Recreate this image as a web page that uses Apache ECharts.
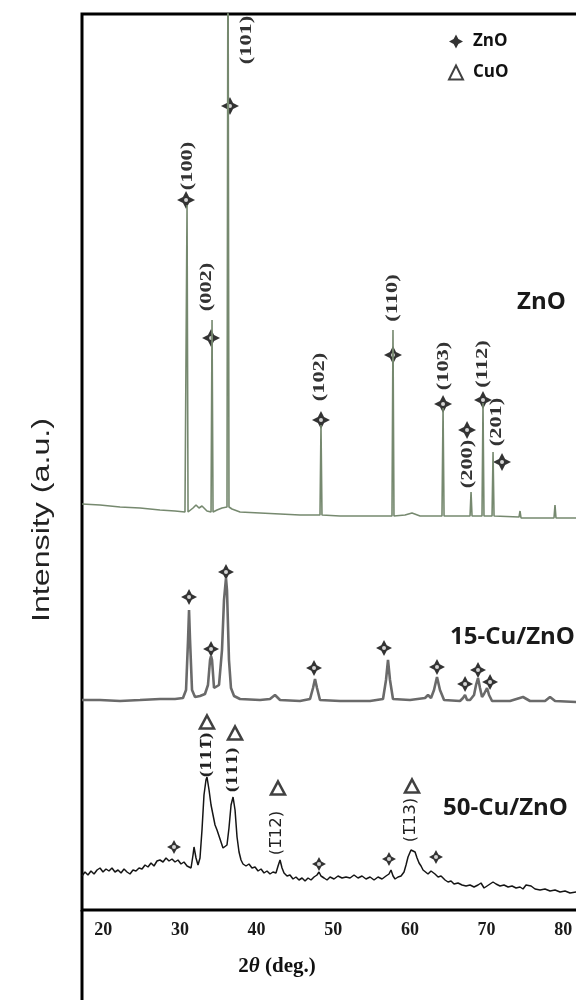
<!DOCTYPE html>
<html>
<head>
<meta charset="utf-8">
<title>XRD - ZnO / 15-Cu/ZnO / 50-Cu/ZnO</title>
<script src="https://cdn.jsdelivr.net/npm/echarts@6/dist/echarts.min.js"></script>
<style>
  html, body { margin: 0; padding: 0; background: #fff; }
  #main { width: 576px; height: 1000px; }
</style>
</head>
<body>
<div id="main"></div>
<script>
// 2theta tick labels
var xTicks = [20, 30, 40, 50, 60, 70, 80];

// patterns: [2theta (deg), intensity (a.u., stacked)]
var zno = [
  [17.23, 406], [19.58, 405], [22.19, 403], [24.80, 402], [27.40, 400], [29.36, 399],
  [30.66, 398], [30.80, 398], [30.93, 705], [31.06, 398], [31.32, 399], [31.71, 402],
  [32.10, 405], [32.49, 402], [32.88, 404], [33.53, 399], [34.06, 398], [34.19, 590],
  [34.32, 398], [34.84, 400], [35.49, 402], [36.14, 403], [36.27, 1010], [36.40, 403],
  [36.79, 401], [37.84, 398], [40.45, 397], [43.06, 396], [45.66, 395], [48.27, 395],
  [48.40, 485], [48.53, 395], [50.88, 394], [54.79, 394], [57.66, 394], [57.79, 580],
  [57.92, 394], [59.36, 395], [60.27, 397], [61.32, 394], [64.18, 394], [64.32, 502],
  [64.45, 394], [67.84, 394], [67.97, 418], [68.10, 394], [69.40, 394], [69.53, 507],
  [69.66, 394], [70.71, 394], [70.84, 458], [70.97, 394], [74.23, 393], [74.36, 399],
  [74.49, 392], [78.79, 392], [78.92, 405], [79.05, 392], [81.67, 392]
];

var cu15 = [
  [17.23, 210], [19.58, 210], [22.19, 209], [24.80, 210], [27.40, 211], [29.36, 211],
  [30.40, 212], [30.80, 220], [31.06, 270], [31.19, 300], [31.32, 270], [31.58, 220],
  [31.97, 213], [32.62, 214], [33.27, 216], [33.66, 225], [33.93, 250], [34.06, 254],
  [34.19, 250], [34.45, 222], [34.71, 220], [35.10, 225], [35.49, 260], [35.75, 310],
  [36.01, 332], [36.14, 320], [36.40, 250], [36.66, 222], [37.06, 214], [37.84, 211],
  [40.45, 210], [41.75, 211], [42.40, 215], [43.06, 210], [45.66, 209], [46.97, 211],
  [47.36, 222], [47.62, 231], [47.88, 222], [48.27, 210], [50.88, 209], [54.79, 209],
  [56.49, 211], [56.88, 230], [57.14, 250], [57.40, 230], [57.79, 211], [60.01, 210],
  [61.97, 212], [62.36, 215], [62.75, 212], [63.14, 220], [63.53, 233], [63.92, 220],
  [64.45, 210], [66.53, 209], [66.92, 212], [67.19, 215], [67.45, 210], [67.84, 210],
  [68.36, 215], [68.62, 225], [68.88, 232], [69.14, 222], [69.40, 213], [69.66, 216],
  [70.06, 222], [70.32, 215], [70.71, 209], [73.05, 209], [74.75, 213], [75.66, 209],
  [77.62, 209], [78.27, 213], [78.93, 209], [81.67, 208]
];

var cu50 = [
  [17.23, 34], [17.62, 38], [18.01, 35], [18.40, 39], [18.80, 36], [19.19, 40],
  [19.58, 42], [19.97, 38], [20.36, 41], [20.75, 39], [21.14, 42], [21.53, 38],
  [21.93, 40], [22.32, 37], [22.71, 41], [23.10, 38], [23.49, 36], [23.88, 40],
  [24.27, 39], [24.67, 42], [25.06, 41], [25.45, 45], [25.84, 43], [26.23, 47],
  [26.62, 44], [27.01, 49], [27.40, 50], [27.80, 48], [28.19, 52], [28.58, 49],
  [28.97, 51], [29.36, 48], [29.75, 50], [30.14, 46], [30.53, 48], [30.93, 44],
  [31.19, 46], [31.45, 42], [31.71, 55], [31.84, 63], [32.10, 52], [32.36, 45],
  [32.62, 52], [32.88, 80], [33.14, 115], [33.40, 130], [33.53, 133], [33.80, 120],
  [34.06, 105], [34.32, 95], [34.58, 85], [34.84, 80], [35.10, 74], [35.36, 68],
  [35.62, 62], [35.88, 61], [36.14, 65], [36.40, 82], [36.67, 105], [36.93, 113],
  [37.19, 100], [37.45, 73], [37.71, 58], [37.97, 50], [38.23, 46], [38.62, 44],
  [39.01, 46], [39.40, 42], [39.80, 43], [40.19, 39], [40.58, 41], [40.97, 37],
  [41.36, 39], [41.75, 36], [42.14, 38], [42.53, 37], [42.80, 44], [43.06, 50],
  [43.32, 42], [43.58, 37], [43.97, 34], [44.36, 35], [44.75, 31], [45.14, 33],
  [45.53, 30], [45.93, 32], [46.32, 29], [46.71, 32], [47.10, 30], [47.49, 33],
  [47.88, 35], [48.14, 38], [48.40, 34], [48.80, 32], [49.19, 30], [49.58, 33],
  [50.10, 31], [50.62, 34], [51.14, 32], [51.67, 33], [52.19, 32], [52.71, 35],
  [53.23, 32], [53.75, 34], [54.27, 31], [54.80, 33], [55.32, 30], [55.84, 33],
  [56.36, 31], [56.88, 34], [57.27, 36], [57.53, 40], [57.80, 34], [58.06, 31],
  [58.45, 33], [58.84, 34], [59.23, 38], [59.49, 45], [59.75, 53], [60.14, 60],
  [60.40, 62], [60.67, 58], [60.93, 52], [61.19, 47], [61.45, 44], [61.71, 40],
  [61.97, 38], [62.36, 36], [62.75, 39], [63.01, 40], [63.27, 36], [63.67, 33],
  [64.06, 34], [64.58, 30], [64.97, 28], [65.36, 29], [65.75, 26], [66.27, 27],
  [66.80, 25], [67.32, 24], [67.84, 25], [68.36, 23], [68.88, 25], [69.27, 27],
  [69.67, 22], [70.06, 24], [70.45, 26], [70.84, 28], [71.23, 26], [71.75, 24],
  [72.27, 25], [72.80, 23], [73.32, 24], [73.84, 22], [74.36, 23], [74.75, 21],
  [75.14, 25], [75.40, 27], [75.80, 24], [76.32, 21], [76.97, 20], [77.62, 21],
  [78.27, 19], [78.93, 20], [79.58, 18], [80.23, 19], [80.88, 17], [81.67, 18]
];

// phase markers
var znoMarksA = [[30.80, 710], [36.53, 804], [34.06, 572], [48.40, 490], [57.79, 555],
  [64.32, 506], [69.53, 510], [67.45, 480], [72.01, 448]];
var znoMarksB = [[31.19, 313], [34.06, 261], [36.01, 338], [47.49, 242], [56.62, 262],
  [63.53, 243], [67.19, 226], [68.88, 240], [70.45, 228]];
var znoMarksC = [[29.23, 63], [48.14, 46], [57.27, 51], [63.40, 53]];
var cuoMarks = [[33.53, 188], [37.19, 177], [42.79, 122], [60.27, 124]];

// reflection labels: [text, 2theta, intensity]
var znoHkl = [['(100)', 31.06, 744], ['(101)', 38.75, 870], ['(002)', 33.53, 623],
  ['(102)', 48.27, 533], ['(110)', 57.79, 612], ['(103)', 64.45, 544],
  ['(112)', 69.53, 546], ['(200)', 67.58, 446], ['(201)', 71.36, 488]];
var cuoHklA = [['(111\u0305)', 33.53, 155], ['(111)', 36.93, 140]];
var cuoHklB = [['(1\u030512)', 42.66, 77], ['(1\u030513)', 60.14, 90]];
var sampleNames = [['ZnO', 73.97, 608], ['15-Cu/ZnO', 65.23, 273], ['50-Cu/ZnO', 64.32, 102]];

var starPath = 'path://M0,-10 L3.4,-3.4 L10,0 L3.4,3.4 L0,10 L-3.4,3.4 L-10,0 L-3.4,-3.4 Z';

var chart = echarts.init(document.getElementById('main'));

var option = {
  animation: false,
  backgroundColor: '#fff',
  grid: {
    show: true, left: 82, top: 14, width: 519, height: 896,
    outerBoundsMode: 'none', containLabel: false,
    borderColor: '#000', borderWidth: 3
  },
  legend: {
    data: ['ZnO', 'CuO'],
    orient: 'vertical',
    left: 443, top: 28,
    itemWidth: 14, itemHeight: 14, itemGap: 14,
    selectedMode: false,
    textStyle: { fontFamily: 'Open Sans', fontWeight: 'bold', fontSize: 17, color: '#111', padding: [0, 0, 0, 5] }
  },
  xAxis: {
    type: 'value', min: 17.23, max: 84.92,
    axisLine: { show: false },
    axisTick: { show: false },
    splitLine: { show: false },
    axisLabel: {
      customValues: xTicks,
      margin: 11,
      fontFamily: 'Liberation Serif', fontWeight: 'bold', fontSize: 18, color: '#1a1a1a'
    }
  },
  yAxis: {
    type: 'value', min: 0, max: 896, show: false, splitLine: { show: false }
  },
  series: [
    { name: 'ZnO pattern', type: 'line', data: zno, showSymbol: false, silent: true,
      lineStyle: { color: '#76896f', width: 1.6 } },
    { name: '15-Cu/ZnO pattern', type: 'line', data: cu15, showSymbol: false, silent: true,
      lineStyle: { color: '#6a6a6a', width: 2.6 } },
    { name: '50-Cu/ZnO pattern', type: 'line', data: cu50, showSymbol: false, silent: true,
      lineStyle: { color: '#151515', width: 1.5 } },
    { name: 'ZnO', type: 'scatter', data: znoMarksA, symbol: starPath, symbolSize: 18, silent: true,
      itemStyle: { color: '#000' } },
    { name: 'ZnO', type: 'scatter', data: znoMarksB, symbol: starPath, symbolSize: 16, silent: true,
      itemStyle: { color: '#000' } },
    { name: 'ZnO', type: 'scatter', data: znoMarksC, symbol: starPath, symbolSize: 14, silent: true,
      itemStyle: { color: '#000' } },
    { name: 'star centre', type: 'scatter', data: znoMarksA.concat(znoMarksB, znoMarksC),
      symbol: 'circle', symbolSize: 4, silent: true, itemStyle: { color: '#fff' } },
    { name: 'CuO', type: 'scatter', data: cuoMarks, symbol: 'triangle', symbolSize: [14, 13], silent: true,
      itemStyle: { color: '#fff', borderColor: '#111', borderWidth: 2.5 } }
  ]
};

chart.setOption(option);

function at(deg, val) {
  return chart.convertToPixel({ gridIndex: 0 }, [deg, val]);
}

function vText(d, font, stretch, color) {
  var p = at(d[1], d[2]);
  return {
    type: 'text', x: p[0], y: p[1], rotation: Math.PI / 2, scaleX: stretch, silent: true,
    style: { text: d[0], font: font, fill: color, align: 'center', verticalAlign: 'middle' }
  };
}

var graphics = [];
znoHkl.forEach(function (d) {
  graphics.push(vText(d, 'bold 16px "Liberation Serif"', 1.4, '#333'));
});
cuoHklA.forEach(function (d) {
  graphics.push(vText(d, 'bold 15px "DejaVu Serif"', 1.0, '#222'));
});
cuoHklB.forEach(function (d) {
  graphics.push(vText(d, '15px "DejaVu Sans"', 1.1, '#222'));
});
sampleNames.forEach(function (d) {
  var p = at(d[1], d[2]);
  graphics.push({
    type: 'text', x: p[0], y: p[1], silent: true,
    style: { text: d[0], font: 'bold 24px "Open Sans"', fill: '#1a1a1a', align: 'left', verticalAlign: 'middle' }
  });
});

// left frame continues under the axis
graphics.push({ type: 'line', silent: true, shape: { x1: 82, y1: 910, x2: 82, y2: 1000 },
  style: { stroke: '#000', lineWidth: 3 } });
// axis titles
graphics.push({
  type: 'text', x: 43, y: 520, rotation: Math.PI / 2, scaleX: 1.4, silent: true,
  style: { text: 'Intensity (a.u.)', font: '23px "Liberation Sans"', fill: '#222', align: 'center', verticalAlign: 'middle' }
});
graphics.push({
  type: 'text', x: 277, y: 967, silent: true,
  style: {
    text: '{a|2}{b|θ}{a| (deg.)}', align: 'center', verticalAlign: 'middle',
    rich: {
      a: { font: 'bold 21px "Liberation Serif"', fill: '#111' },
      b: { font: 'italic bold 21px "Liberation Serif"', fill: '#111' }
    }
  }
});

chart.setOption({ graphic: graphics });
</script>
</body>
</html>
